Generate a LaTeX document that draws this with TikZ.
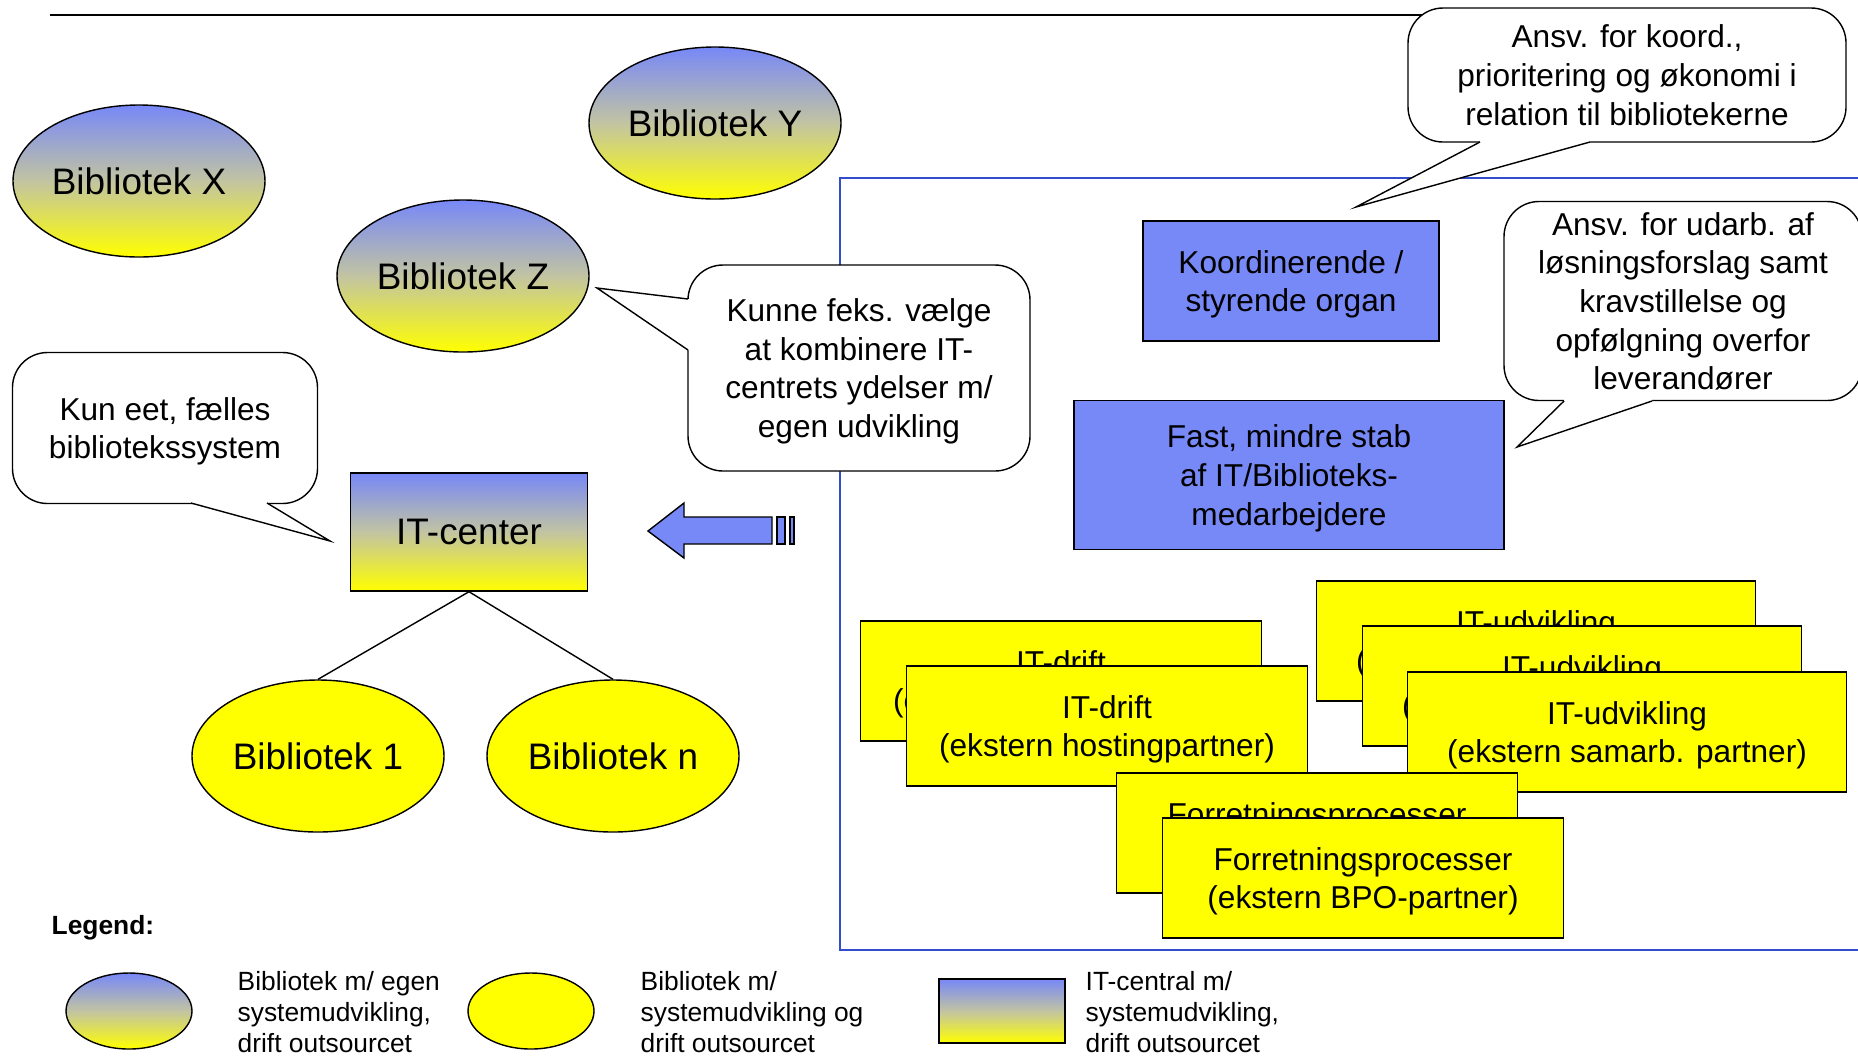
\documentclass[tikz,border=0pt]{standalone}
\usepackage{fontspec}
\setmainfont{Liberation Sans}
\usepackage{tikz}
\usetikzlibrary{shapes}
\definecolor{libblue}{RGB}{119,136,247}
\definecolor{libyellow}{RGB}{255,255,0}
\definecolor{libmid}{RGB}{194,196,162}
\definecolor{frameblue}{RGB}{51,76,204}
\tikzset{
  grad/.style={top color=libblue, bottom color=libyellow, middle color=libmid},
  bib/.style={ellipse, draw, thin, minimum width=25.2mm, minimum height=15.2mm, inner sep=0pt, font=\fontsize{10.5}{12.6}\selectfont},
  egenbib/.style={bib, grad},
  outbib/.style={bib, fill=libyellow},
  boxtext/.style={align=center, inner sep=0pt, text depth=-0.8pt, font=\fontsize{9}{11}\selectfont},
  staff/.style={rectangle, draw, thin, fill=libblue, boxtext},
  partner/.style={rectangle, draw, thin, fill=libyellow, minimum height=12mm, boxtext},
  bubble/.style={rectangle, rounded corners=3.5mm, draw, thin, fill=white, boxtext},
  legtext/.style={anchor=west, align=left, inner sep=0pt, font=\fontsize{7.5}{8.8}\selectfont},
}

\begin{document}
\begin{tikzpicture}[x=0.1mm,y=-0.1mm]
\useasboundingbox (0,0) rectangle (1858,1055);
\clip (0,0) rectangle (1858,1055);

\draw[line width=0.6pt] (50,15)--(1440,15);
\draw[frameblue, line width=0.5pt] (840,178) rectangle (1900,950);

% biblioteker
\node[egenbib] (bibx) at (139,181) {Bibliotek X};
\node[egenbib] (biby) at (715,123) {Bibliotek Y};
\node[egenbib] (bibz) at (463,276) {Bibliotek Z};
\node[outbib] (bib1) at (318,756) {Bibliotek 1};
\node[outbib] (bibn) at (613,756) {Bibliotek n};

\node[rectangle, draw, thin, grad, minimum width=23.7mm, minimum height=11.8mm, inner sep=0pt, text depth=-0.5pt, font=\fontsize{10.5}{12.6}\selectfont] (itc) at (469,532) {IT-center};
\draw[thin] (itc.south)--(bib1.north);
\draw[thin] (itc.south)--(bibn.north);

\filldraw[fill=libblue, draw=black, thin] (648,531)--(684,503)--(684,517)--(772,517)--(772,544)--(684,544)--(684,558)--cycle;
\filldraw[fill=libblue, draw=black, thin] (777,517) rectangle (785,544);
\filldraw[fill=libblue, draw=black, thin] (790,517) rectangle (794,544);

% bobler
\node[bubble, minimum width=30.5mm, minimum height=15.1mm] (kun) at (165,428) {Kun eet, fælles\\bibliotekssystem};
\fill[white] (191,497)--(191,503)--(330,541)--(267,503)--(267,497)--cycle;
\draw[thin] (191,503)--(330,541)--(267,503);

\node[bubble, minimum width=34.2mm, minimum height=20.6mm] (kunne) at (859,368) {Kunne feks. vælge\\at kombinere IT-\\centrets ydelser m/\\egen udvikling};
\fill[white] (694,299)--(688,299)--(597,288)--(688,350)--(694,350)--cycle;
\draw[thin] (688,299)--(597,288)--(688,350);

\node[bubble, minimum width=43.8mm, minimum height=13.4mm] (koordansv) at (1627,75) {Ansv. for koord.,\\prioritering og økonomi i\\relation til bibliotekerne};
\fill[white] (1480,136)--(1480,142)--(1356,207)--(1590,142)--(1590,136)--cycle;
\draw[thin] (1480,142)--(1356,207)--(1590,142);

\node[bubble, minimum width=35.8mm, minimum height=19.9mm] (udarb) at (1683,301) {Ansv. for udarb. af\\løsningsforslag samt\\kravstillelse og\\opfølgning overfor\\leverandører};
\fill[white] (1564,395)--(1564,401)--(1517,447)--(1652,401)--(1652,395)--cycle;
\draw[thin] (1564,401)--(1517,447)--(1652,401);

% IT-central
\node[staff, minimum width=29.6mm, minimum height=12mm] (koord) at (1291,281) {Koordinerende /\\styrende organ};
\node[staff, minimum width=43mm, minimum height=14.9mm] (stab) at (1289,475) {Fast, mindre stab\\af IT/Biblioteks-\\medarbejdere};

\node[partner, minimum width=40.1mm] (drift1) at (1061,681) {IT-drift\\(ekstern hostingpartner)};
\node[partner, minimum width=40.1mm] (drift2) at (1107,726) {IT-drift\\(ekstern hostingpartner)};
\node[partner, minimum width=43.9mm] (udv1) at (1536,641) {IT-udvikling\\(ekstern samarb. partner)};
\node[partner, minimum width=43.9mm] (udv2) at (1582,686) {IT-udvikling\\(ekstern samarb. partner)};
\node[partner, minimum width=43.9mm] (udv3) at (1627,732) {IT-udvikling\\(ekstern samarb. partner)};
\node[partner, minimum width=40.1mm] (forr1) at (1317,833) {Forretningsprocesser\\(ekstern BPO-partner)};
\node[partner, minimum width=40.1mm] (forr2) at (1363,878) {Forretningsprocesser\\(ekstern BPO-partner)};

% legend
\node[anchor=west, inner sep=0pt, font=\fontsize{7.5}{8.8}\selectfont\bfseries] (legend) at (51,928) {Legend:};
\node[egenbib, minimum width=12.6mm, minimum height=7.6mm] (leg1) at (129,1011) {};
\node[legtext] (legtxt1) at (237,1012) {Bibliotek m/ egen\\systemudvikling,\\drift outsourcet};
\node[outbib, minimum width=12.6mm, minimum height=7.6mm] (leg2) at (531,1011) {};
\node[legtext] (legtxt2) at (640,1012) {Bibliotek m/\\systemudvikling og\\drift outsourcet};
\node[rectangle, draw, thin, grad, minimum width=12.6mm, minimum height=6.4mm] (leg3) at (1002,1011) {};
\node[legtext] (legtxt3) at (1085,1012) {IT-central m/\\systemudvikling,\\drift outsourcet};

\end{tikzpicture}
\end{document}
